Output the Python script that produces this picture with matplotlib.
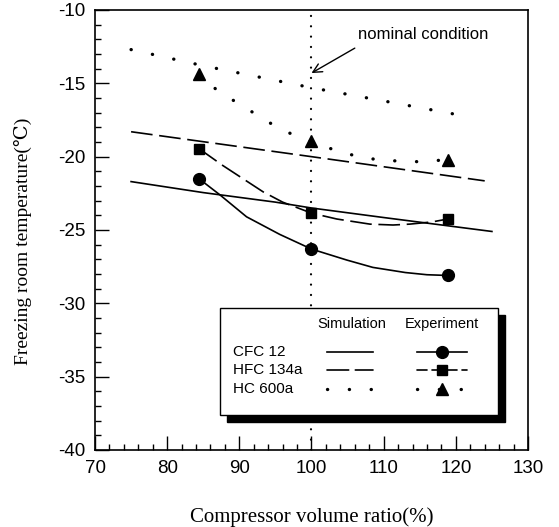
import matplotlib
matplotlib.use("Agg")
import matplotlib.pyplot as plt
from matplotlib.lines import Line2D
from matplotlib.patches import Rectangle
from matplotlib.ticker import MultipleLocator

plt.rcParams["axes.unicode_minus"] = False

# ---- data ----
# Simulation lines
sim_cfc_x = [75, 85, 95, 100, 110, 125]
sim_cfc_y = [-21.7, -22.45, -23.1, -23.5, -24.15, -25.1]
sim_hfc_x = [75, 100, 124]
sim_hfc_y = [-18.3, -20.0, -21.65]
sim_hc_x = [75, 85, 100, 110, 122]
sim_hc_y = [-12.7, -13.8, -15.3, -16.2, -17.3]

# Experiment points
exp_x = [84.4, 100.0, 118.9]
exp_cfc_y = [-21.5, -26.3, -28.1]
exp_hfc_y = [-19.45, -23.85, -24.25]
exp_hc_y = [-14.35, -18.95, -20.2]

# Smooth curves drawn through the experiment points
fit_cfc_x = [84.4, 87.3, 91.0, 95.6, 100.0, 104.9, 108.5, 113.0, 116.0, 118.9]
fit_cfc_y = [-21.5, -22.6, -24.1, -25.3, -26.3, -27.05, -27.55, -27.9, -28.05, -28.1]
fit_hfc_x = [84.4, 87.7, 93.3, 96.0, 100.0, 103.5, 108.1, 111.3, 113.6, 116.7, 118.9]
fit_hfc_y = [-19.45, -20.6, -22.4, -23.1, -23.85, -24.25, -24.6, -24.66, -24.6, -24.45, -24.25]
fit_hc_x = [84.4, 87.2, 90.0, 92.9, 95.6, 98.4, 100.0, 101.3, 104.0, 106.7, 109.6, 112.4, 115.2, 118.9]
fit_hc_y = [-14.35, -15.6, -16.4, -17.3, -18.1, -18.7, -18.95, -19.2, -19.7, -20.0, -20.25, -20.3, -20.35, -20.2]

nominal_x = 100
refrigerants = ["CFC 12", "HFC 134a", "HC 600a"]
legend_header = ["Simulation", "Experiment"]
xticks = [70, 80, 90, 100, 110, 120, 130]
yticks = [-10, -15, -20, -25, -30, -35, -40]

# ---- styles ----
SANS = ["Liberation Sans", "DejaVu Sans"]
SERIF = ["Liberation Serif", "DejaVu Serif"]
dash_ls = (0, (13, 4))
dot_ls = (0, (0.05, 6.5))
lw = 1.2

fig = plt.figure(figsize=(5.59, 5.27), dpi=100)
ax = fig.add_axes([95 / 559, 1 - 450 / 527, 433 / 559, 440 / 527])

# simulation
ax.plot(sim_cfc_x, sim_cfc_y, color="black", lw=lw, ls="-")
ax.plot(sim_hfc_x, sim_hfc_y, color="black", lw=lw, ls=dash_ls)
ax.plot(sim_hc_x, sim_hc_y, color="black", lw=2.4, ls=dot_ls, dash_capstyle="round")

# experiment curves
ax.plot(fit_cfc_x, fit_cfc_y, color="black", lw=lw, ls="-")
ax.plot(fit_hfc_x, fit_hfc_y, color="black", lw=lw, ls=dash_ls)
ax.plot(fit_hc_x, fit_hc_y, color="black", lw=2.4, ls=dot_ls, dash_capstyle="round")

# experiment markers
ax.plot(exp_x, exp_cfc_y, ls="none", marker="o", ms=8.5, color="black")
ax.plot(exp_x, exp_hfc_y, ls="none", marker="s", ms=7.5, color="black")
ax.plot(exp_x, exp_hc_y, ls="none", marker="^", ms=9, color="black")

# nominal condition
ax.axvline(nominal_x, color="black", lw=1.6, ls=(0, (0.05, 4.6)), dash_capstyle="round")
ax.annotate("", xy=(100, -14.3), xytext=(106.0, -12.6),
            arrowprops=dict(arrowstyle="->", color="black", lw=1.0,
                            mutation_scale=16, shrinkA=0, shrinkB=0))
ax.text(106.4, -11.65, "nominal condition", family=SANS, fontsize=12,
        ha="left", va="center")

# axes
ax.set_xlim(70, 130)
ax.set_ylim(-40, -10)
ax.set_xticks(xticks)
ax.set_yticks(yticks)
ax.xaxis.set_minor_locator(MultipleLocator(2))
ax.yaxis.set_minor_locator(MultipleLocator(1))
ax.tick_params(which="both", direction="in", top=False, right=False, width=1.0)
ax.tick_params(which="major", length=10)
ax.tick_params(which="minor", length=4.5)
ax.tick_params(axis="x", pad=7)
ax.tick_params(axis="y", pad=7)
for lab in ax.get_xticklabels() + ax.get_yticklabels():
    lab.set_family(SANS)
    lab.set_fontsize(13.5)
for s in ax.spines.values():
    s.set_linewidth(1.2)

ax.set_xlabel("Compressor volume ratio(%)", family=SERIF, fontsize=15)
ax.set_ylabel("Freezing room temperature(℃)", family=SERIF, fontsize=14)


def fx(px):
    return (px - 95) / 433


def fy(py):
    return (450 - py) / 440


ax.xaxis.set_label_coords(fx(312), fy(507))
ax.yaxis.set_label_coords(fx(32), fy(241))

# ---- manual legend (axes fraction coordinates) ----
T = ax.transAxes
shadow = Rectangle((fx(227), fy(422)), fx(505) - fx(227), fy(315) - fy(422),
                   transform=T, facecolor="black", edgecolor="black", zorder=5)
box = Rectangle((fx(220), fy(415)), fx(498) - fx(220), fy(308) - fy(415),
                transform=T, facecolor="white", edgecolor="black", lw=1.0, zorder=6)
ax.add_patch(shadow)
ax.add_patch(box)

ax.text(fx(352), fy(324), legend_header[0], transform=T, family=SANS, fontsize=10.5,
        ha="center", va="center", zorder=7)
ax.text(fx(442), fy(324), legend_header[1], transform=T, family=SANS, fontsize=10.5,
        ha="center", va="center", zorder=7)

row_y = [fy(352), fy(370), fy(389)]
sim_styles = [("-", lw), (dash_ls, lw), (dot_ls, 2.4)]
exp_styles = [("-", "o", 8.5, lw), ((0, (6, 3)), "s", 7.5, lw), (dot_ls, "^", 9, 2.4)]
for i, name in enumerate(refrigerants):
    ax.text(fx(233), row_y[i], name, transform=T, family=SANS, fontsize=11,
            ha="left", va="center", zorder=7)
    ls, w = sim_styles[i]
    ax.add_line(Line2D([fx(327), fx(373)], [row_y[i]] * 2, transform=T, color="black",
                       lw=w, ls=ls, dash_capstyle="round", zorder=7))
    ls, mk, ms, w = exp_styles[i]
    ax.add_line(Line2D([fx(417), fx(442), fx(467)], [row_y[i]] * 3, transform=T,
                       color="black", lw=w, ls=ls, dash_capstyle="round",
                       marker=mk, ms=ms, markevery=[1], zorder=7))

fig.savefig("out.png", dpi=100)
